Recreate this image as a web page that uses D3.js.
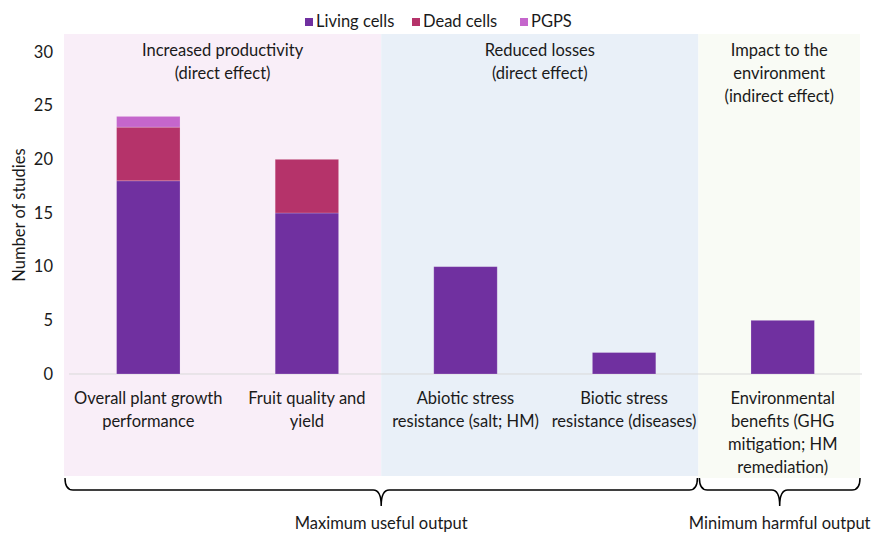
<!DOCTYPE html>
<html>
<head>
<meta charset="utf-8">
<script src="https://cdn.jsdelivr.net/npm/d3@7"></script>
<style>
  body { margin: 0; background: #fff; }
  text { font-family: Lato, 'Open Sans', sans-serif; fill: #1a1a1a; }
</style>
</head>
<body>
<div id="chart"></div>
<script>
// data
var categories = ['c1', 'c2', 'c3', 'c4', 'c5']
var categoryLabels = [
  ['Overall plant growth', 'performance'],
  ['Fruit quality and', 'yield'],
  ['Abiotic stress', 'resistance (salt; HM)'],
  ['Biotic stress', 'resistance (diseases)'],
  ['Environmental', 'benefits (GHG', 'mitigation; HM', 'remediation)']
]
var seriesNames = ['Living cells', 'Dead cells', 'PGPS']
var livingCells = [18, 15, 10, 2, 5]
var deadCells = [5, 5, 0, 0, 0]
var pgps = [1, 0, 0, 0, 0]
var yTicks = [0, 5, 10, 15, 20, 25, 30]
var groupTitles = [
  ['Increased productivity', '(direct effect)'],
  ['Reduced losses', '(direct effect)'],
  ['Impact to the', 'environment', '(indirect effect)']
]
var groupSpans = [[0, 1], [2, 3], [4, 4]]
var braceLabels = ['Maximum useful output', 'Minimum harmful output']
var braceSpans = [[0, 3], [4, 4]]

var colors = ['#7030A0', '#B5336A', '#C566CC']
var groupFills = ['#F9EEF8', '#E9F0F8', '#F9FBF5']

var width = 874
var height = 535
var margin = { top: 52, right: 12, bottom: 161, left: 69 }
var fontSize = '16.5px'

var svg = d3.select('#chart').append('svg')
  .attr('width', width)
  .attr('height', height)

var x = d3.scaleBand()
  .domain(categories)
  .range([margin.left, width - margin.right])
  .paddingInner(0.6)
  .paddingOuter(0.3)

var y = d3.scaleLinear()
  .domain([0, 30])
  .range([height - margin.bottom, margin.top])

var step = x.step()
function leftEdge (i) { return x(categories[i]) - step * 0.3 - 5 }
function rightEdge (i) { return x(categories[i]) + x.bandwidth() + step * 0.3 - 5 }

// group backgrounds
svg.selectAll('.groupBg')
  .data(groupSpans)
  .enter().append('rect')
  .attr('class', 'groupBg')
  .attr('x', function (d) { return leftEdge(d[0]) })
  .attr('y', 34)
  .attr('width', function (d, i) {
    var r = i === groupSpans.length - 1 ? width - 14 : rightEdge(d[1])
    return r - leftEdge(d[0])
  })
  .attr('height', function (d, i) { return i === 2 ? 444 : 442 })
  .style('fill', function (d, i) { return groupFills[i] })

// group titles
groupTitles.forEach(function (lines, i) {
  var span = groupSpans[i]
  var r = i === groupSpans.length - 1 ? width - 14 : rightEdge(span[1])
  var cx = (leftEdge(span[0]) + r) / 2
  lines.forEach(function (t, j) {
    svg.append('text')
      .attr('x', cx)
      .attr('y', 56 + j * 23)
      .style('text-anchor', 'middle')
      .style('font-size', fontSize)
      .text(t)
  })
})

// y axis
var yAxis = svg.append('g')
  .attr('transform', 'translate(' + (margin.left - 16) + ',0)')
  .call(d3.axisLeft(y).tickValues(yTicks).tickSize(0).tickPadding(0))
yAxis.select('.domain').remove()
yAxis.selectAll('text')
  .style('font-family', 'Lato, sans-serif')
  .style('font-size', fontSize)
  .style('fill', '#1a1a1a')

svg.append('text')
  .attr('transform', 'translate(25,' + (y(15) + 2) + ') rotate(-90)')
  .style('text-anchor', 'middle')
  .style('font-size', fontSize)
  .text('Number of studies')

// x baseline
svg.append('line')
  .attr('x1', margin.left)
  .attr('x2', width - margin.right)
  .attr('y1', y(0))
  .attr('y2', y(0))
  .style('stroke', '#D9D9D9')
  .style('stroke-width', 1)

// stacked bars
var table = categories.map(function (c, i) {
  return { cat: c, 'Living cells': livingCells[i], 'Dead cells': deadCells[i], PGPS: pgps[i] }
})
var stack = d3.stack().keys(seriesNames)(table)

svg.selectAll('.series')
  .data(stack)
  .enter().append('g')
  .attr('class', 'series')
  .style('fill', function (d, i) { return colors[i] })
  .selectAll('rect')
  .data(function (d) { return d.filter(function (p) { return p[1] > p[0] }) })
  .enter().append('rect')
  .attr('x', function (d) { return x(d.data.cat) })
  .attr('y', function (d) { return y(d[1]) })
  .attr('width', x.bandwidth())
  .attr('height', function (d) { return y(d[0]) - y(d[1]) })
  .style('stroke', 'rgba(255,255,255,0.25)')
  .style('stroke-width', 0.8)

// category labels
categoryLabels.forEach(function (lines, i) {
  var cx = x(categories[i]) + x.bandwidth() / 2
  lines.forEach(function (t, j) {
    svg.append('text')
      .attr('x', cx)
      .attr('y', 404 + j * 23)
      .style('text-anchor', 'middle')
      .style('font-size', fontSize)
      .text(t)
  })
})

// legend
var legendX = [305, 412, 520]
var legend = svg.selectAll('.legendItem')
  .data(seriesNames)
  .enter().append('g')
  .attr('class', 'legendItem')
  .attr('transform', function (d, i) { return 'translate(' + legendX[i] + ',17)' })
legend.append('rect')
  .attr('width', 8)
  .attr('height', 8)
  .attr('y', 1)
  .style('fill', function (d, i) { return colors[i] })
legend.append('text')
  .attr('x', 11)
  .attr('y', 10)
  .style('font-size', fontSize)
  .text(function (d) { return d })

// braces
function brace (x1, x2, y0, ym, yt) {
  var xm = (x1 + x2) / 2
  var r = 8
  return 'M' + x1 + ',' + y0 +
    ' Q' + x1 + ',' + ym + ' ' + (x1 + r) + ',' + ym +
    ' L' + (xm - r) + ',' + ym +
    ' Q' + xm + ',' + ym + ' ' + xm + ',' + yt +
    ' Q' + xm + ',' + ym + ' ' + (xm + r) + ',' + ym +
    ' L' + (x2 - r) + ',' + ym +
    ' Q' + x2 + ',' + ym + ' ' + x2 + ',' + y0
}
braceSpans.forEach(function (span, i) {
  var x1 = leftEdge(span[0]) + 1
  var x2 = i === braceSpans.length - 1 ? width - 14 : rightEdge(span[1]) - 1
  svg.append('path')
    .attr('d', brace(x1, x2, 478, 490, 506))
    .style('fill', 'none')
    .style('stroke', '#000')
    .style('stroke-width', 1.5)
  svg.append('text')
    .attr('x', (x1 + x2) / 2)
    .attr('y', 529)
    .style('text-anchor', 'middle')
    .style('font-size', fontSize)
    .text(braceLabels[i])
})
</script>
</body>
</html>
